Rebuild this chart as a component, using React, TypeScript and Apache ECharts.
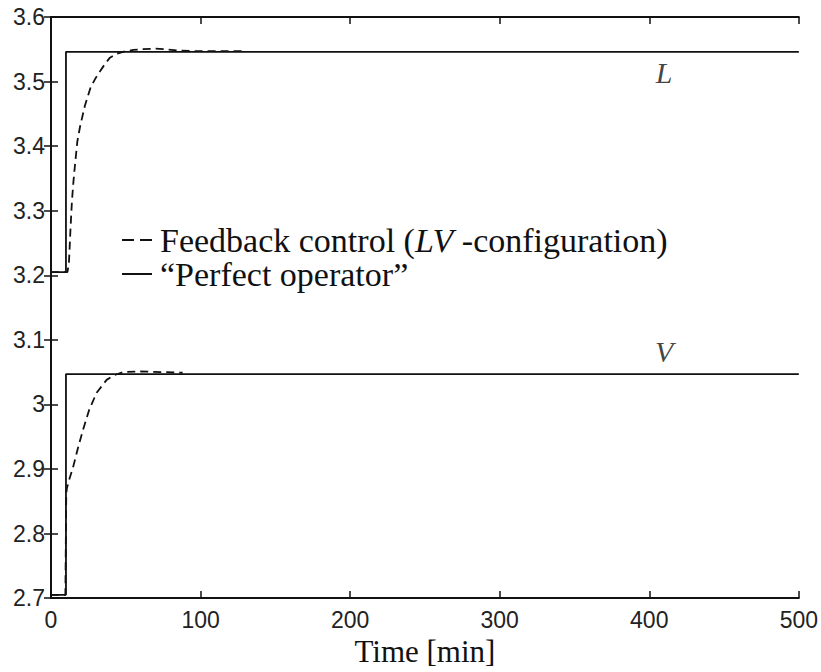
import React, { useEffect, useRef } from "react";
import * as echarts from "echarts";

const xTicks = [0, 100, 200, 300, 400, 500];
const yRange = [2.7, 3.6];

const feedbackName = "Feedback control (LV-configuration)";
const perfectName = "“Perfect operator”";

// Reflux L
const lPerfect: [number, number][] = [
  [0, 3.205], [10, 3.205], [10, 3.546], [500, 3.546],
];
const lFeedback: [number, number][] = [
  [0, 3.205], [11, 3.205], [12, 3.22], [13, 3.27], [14, 3.315], [15, 3.345],
  [16, 3.37], [17.6, 3.407], [19.4, 3.43], [22.7, 3.463], [26.5, 3.491],
  [30, 3.506], [32.8, 3.516], [36, 3.527], [39.4, 3.537], [44, 3.543],
  [50, 3.547], [55, 3.549], [60, 3.550], [70, 3.551], [77, 3.550],
  [86, 3.548], [100, 3.547], [130, 3.547],
];

// Boilup V
const vPerfect: [number, number][] = [
  [0, 2.705], [10, 2.705], [10, 3.047], [500, 3.047],
];
const vFeedback: [number, number][] = [
  [0, 2.705], [9.6, 2.705], [10.2, 2.86], [10.6, 2.87], [12, 2.882],
  [14.9, 2.904], [18.2, 2.934], [21.6, 2.962], [25.6, 2.992], [30.5, 3.018],
  [37.2, 3.038], [42, 3.045], [48, 3.05], [60, 3.051], [75, 3.05], [88, 3.049],
];

const curveLabels: [number, number, string][] = [
  [410, 3.514, "L"],
  [410, 3.082, "V"],
];

const INK = "#111";

export default function App() {
  const ref = useRef<HTMLDivElement>(null);

  useEffect(() => {
    if (!ref.current) return;
    const chart = echarts.init(ref.current, null, { renderer: "svg" });
    const tickFont = {
      fontFamily: "Liberation Sans",
      fontSize: 23,
      color: "#222",
    };
    const axisLine = { show: true, lineStyle: { color: INK, width: 2 } };
    const axisTick = {
      show: true,
      inside: true,
      length: 7,
      lineStyle: { color: INK, width: 1.5 },
    };
    const lineSeries = (name: string, data: [number, number][], dashed: boolean) => ({
      type: "line",
      name,
      data,
      xAxisIndex: 0,
      yAxisIndex: 0,
      symbol: "none",
      showSymbol: false,
      lineStyle: { color: INK, width: 1.8, type: dashed ? [8, 5] : "solid" },
      itemStyle: { color: INK },
      z: dashed ? 3 : 2,
    });
    chart.setOption({
      animation: false,
      backgroundColor: "#fff",
      grid: { left: 51, top: 17, right: 22, bottom: 65, containLabel: false },
      legend: {
        orient: "vertical",
        left: 122,
        top: 223,
        padding: 0,
        itemWidth: 30,
        itemHeight: 14,
        itemGap: 0,
        symbolKeepAspect: true,
        data: [
          {
            name: feedbackName,
            icon: "path://M0,0h12v2h-12z M18,0h12v2h-12z",
            itemStyle: { color: INK },
          },
          {
            name: perfectName,
            icon: "path://M0,0h30v2h-30z",
            itemStyle: { color: INK },
          },
        ],
        formatter: (n: string) =>
          n === feedbackName ? "Feedback control ({i|LV} -configuration)" : n,
        textStyle: {
          fontFamily: "Liberation Serif",
          fontSize: 34,
          lineHeight: 33,
          color: INK,
          padding: [0, 0, 0, 3],
          rich: {
            i: {
              fontFamily: "Liberation Serif",
              fontStyle: "italic",
              fontSize: 34,
              lineHeight: 33,
              color: INK,
            },
          },
        },
      },
      xAxis: [
        {
          type: "value",
          position: "bottom",
          min: xTicks[0],
          max: xTicks[xTicks.length - 1],
          interval: 100,
          axisLine,
          axisTick,
          splitLine: { show: false },
          axisLabel: { ...tickFont, margin: 10 },
          name: "Time [min]",
          nameLocation: "middle",
          nameGap: 35,
          nameTextStyle: { fontFamily: "Liberation Serif", fontSize: 31, color: INK },
        },
        {
          type: "value",
          position: "top",
          min: xTicks[0],
          max: xTicks[xTicks.length - 1],
          interval: 100,
          axisLine,
          axisTick,
          splitLine: { show: false },
          axisLabel: { show: false },
        },
      ],
      yAxis: [
        {
          type: "value",
          position: "left",
          min: yRange[0],
          max: yRange[1],
          interval: 0.1,
          axisLine,
          axisTick,
          splitLine: { show: false },
          axisLabel: {
            ...tickFont,
            margin: 6,
            formatter: (v: number) => String(parseFloat(v.toFixed(1))),
          },
        },
        {
          type: "value",
          position: "right",
          min: yRange[0],
          max: yRange[1],
          interval: 0.1,
          axisLine,
          axisTick,
          splitLine: { show: false },
          axisLabel: { show: false },
        },
      ],
      series: [
        lineSeries(perfectName, lPerfect, false),
        lineSeries(perfectName, vPerfect, false),
        lineSeries(feedbackName, lFeedback, true),
        lineSeries(feedbackName, vFeedback, true),
        {
          type: "scatter",
          name: "labels",
          data: curveLabels,
          xAxisIndex: 0,
          yAxisIndex: 0,
          symbolSize: 2,
          itemStyle: { color: "rgba(0,0,0,0)" },
          silent: true,
          label: {
            show: true,
            position: "inside",
            formatter: (p: any) => p.value[2],
            fontFamily: "Liberation Serif",
            fontStyle: "italic",
            fontSize: 30,
            color: INK,
          },
        },
      ],
    });
    return () => chart.dispose();
  }, []);

  return (
    <div
      ref={ref}
      style={{ position: "absolute", left: 0, top: 0, width: 821, height: 672 }}
    />
  );
}
